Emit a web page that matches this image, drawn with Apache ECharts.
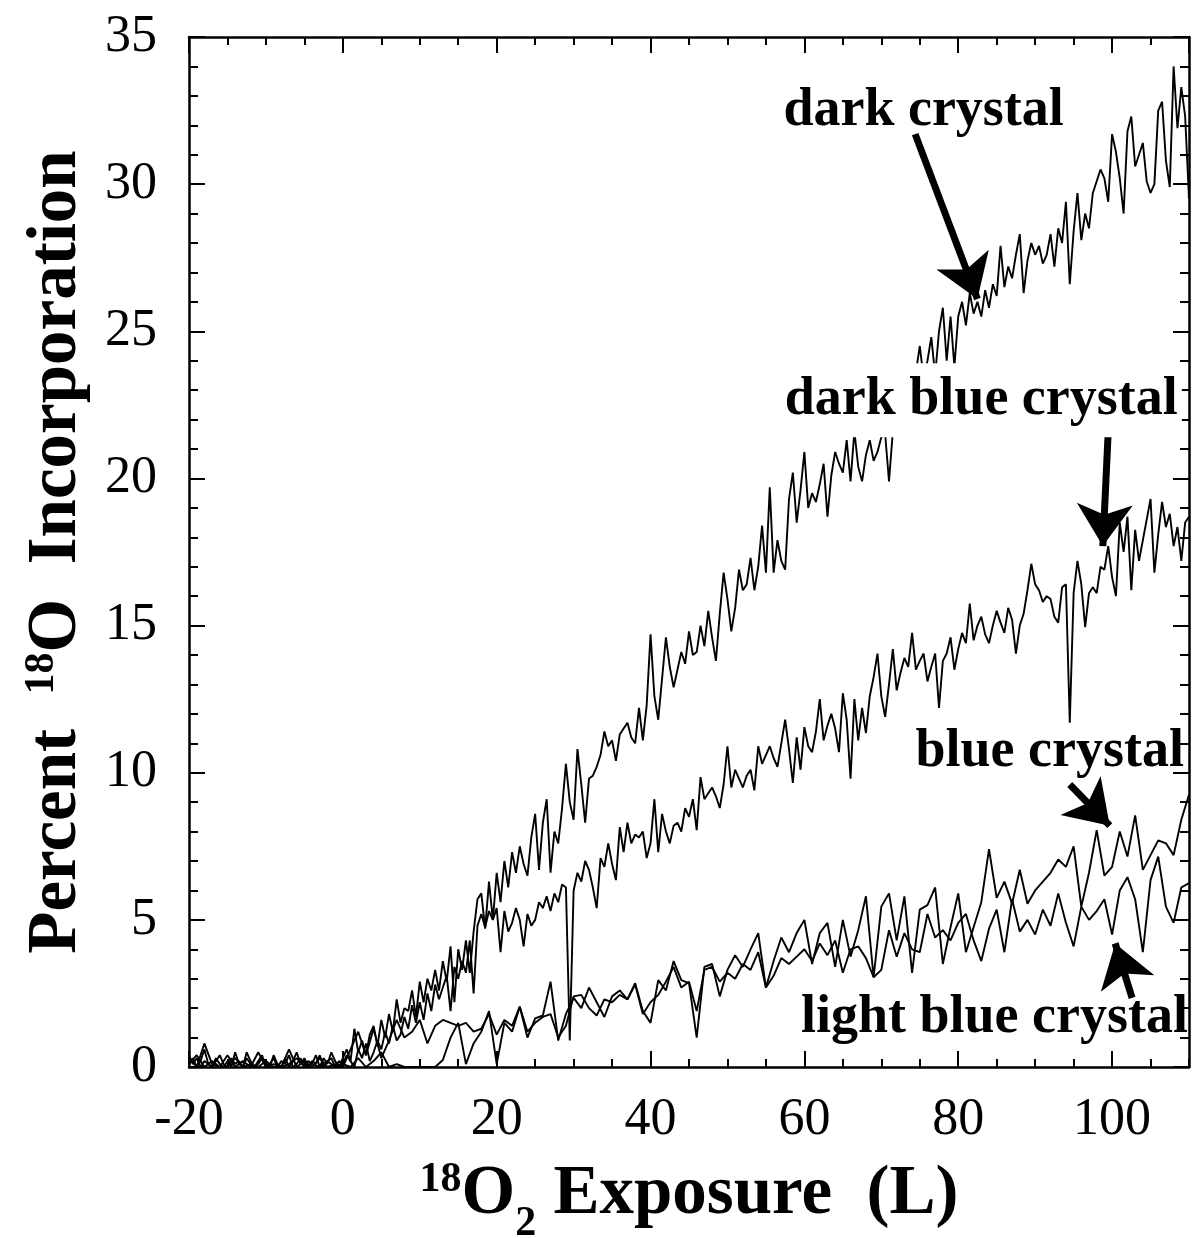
<!DOCTYPE html>
<html>
<head>
<meta charset="utf-8">
<script src="https://cdn.jsdelivr.net/npm/echarts@6.0.0/dist/echarts.min.js"></script>
<style>
html, body { margin: 0; padding: 0; background: #fff; }
#main { width: 1195px; height: 1238px; }
</style>
</head>
<body>
<div id="main"></div>
<script>
// exposure (L) grids: the dark curves are sampled every 0.5 L, the blue ones every 1 L, all from -20 L
var fineStart = -20, fineStep = 0.5;
var coarseStart = -20, coarseStep = 1;

// percent 18O incorporation, one row = 5 L (fine) or 10 L (coarse)
var darkCrystal = [
	0.4, 0.1, 0.3, 0.0, 0.2, 0.1, 0.0, 0.3, 0.1, 0.0,
	0.2, 0.0, 0.5, 0.1, 0.0, 0.3, 0.1, 0.0, 0.2, 0.4,
	0.0, 0.1, 0.3, 0.0, 0.2, 0.1, 0.4, 0.0, 0.1, 0.3,
	0.0, 0.2, 0.1, 0.4, 0.0, 0.3, 0.1, 0.5, 0.2, 0.0,
	0.3, 0.6, 0.2, 1.3, 0.5, 0.9, 0.4, 1.1, 1.4, 0.7,
	1.6, 1.0, 1.8, 1.2, 2.3, 1.5, 2.0, 1.9, 2.6, 1.7,
	2.9, 2.2, 3.0, 2.6, 3.3, 2.6, 3.6, 2.9, 4.1, 2.2,
	4.0, 3.3, 4.3, 3.2, 4.6, 5.7, 5.9, 4.7, 6.3, 5.0,
	6.6, 5.6, 7.0, 6.1, 7.3, 6.6, 7.5, 6.9, 6.5, 7.8,
	8.6, 6.7, 8.3, 9.1, 6.6, 8.0, 7.6, 8.8, 10.3, 9.0,
	8.4, 10.8, 9.6, 8.3, 9.8, 9.9, 10.2, 10.6, 11.4, 10.9,
	11.1, 10.4, 11.3, 11.5, 11.7, 11.2, 11.0, 12.2, 11.1, 12.3,
	14.7, 12.6, 11.8, 13.2, 14.6, 13.6, 12.9, 13.5, 14.1, 13.7,
	14.8, 14.0, 14.1, 15.0, 14.3, 15.5, 14.6, 13.8, 15.4, 16.8,
	15.9, 14.8, 15.6, 16.9, 16.2, 16.4, 17.3, 16.2, 17.0, 18.4,
	16.8, 19.7, 16.8, 17.9, 17.2, 16.9, 19.3, 20.2, 18.5, 19.6,
	20.9, 19.0, 19.5, 19.2, 19.8, 20.5, 18.7, 20.1, 20.9, 20.5,
	20.2, 21.3, 19.9, 21.6, 20.4, 19.9, 20.8, 21.3, 20.6, 20.9,
	21.4, 21.5, 19.9, 21.6, 22.3, 22.8, 22.1, 23.0, 22.6, 23.6,
	24.5, 23.4, 24.0, 24.8, 23.5, 25.0, 25.8, 24.0, 25.5, 23.8,
	25.5, 26.0, 25.2, 26.3, 25.6, 26.0, 25.5, 26.4, 25.8, 26.6,
	26.2, 27.9, 26.5, 27.2, 26.8, 27.6, 28.3, 26.3, 27.4, 28.0,
	27.6, 27.9, 27.3, 27.6, 28.3, 27.2, 28.5, 28.0, 29.4, 26.6,
	28.4, 29.7, 28.1, 29.0, 28.5, 29.7, 30.1, 30.5, 30.2, 29.4,
	31.7, 31.1, 30.2, 29.0, 31.8, 32.3, 30.6, 31.0, 31.4, 30.1,
	29.7, 30.0, 32.5, 32.8, 30.8, 29.9, 34.0, 31.9, 33.3, 32.3,
	29.5
];

var darkBlueCrystal = [
	0.1, 0.3, 0.0, 0.2, 0.6, 0.1, 0.0, 0.2, 0.4, 0.1,
	0.0, 0.3, 0.1, 0.2, 0.0, 0.5, 0.2, 0.0, 0.1, 0.3,
	0.2, 0.0, 0.4, 0.1, 0.0, 0.3, 0.0, 0.2, 0.5, 0.1,
	0.3, 0.0, 0.2, 0.1, 0.4, 0.0, 0.2, 0.3, 0.0, 0.2,
	0.1, 0.4, 0.2, 0.0, 0.6, 0.3, 0.8, 0.2, 0.5, 0.9,
	0.6, 1.2, 0.8, 1.4, 0.9, 1.1, 1.7, 1.3, 2.1, 1.5,
	2.2, 1.6, 2.5, 1.9, 2.8, 2.3, 2.7, 3.1, 1.9, 3.4,
	3.0, 3.6, 3.2, 4.3, 2.5, 4.8, 5.2, 4.75, 5.3, 5.0,
	5.4, 3.9, 5.3, 4.6, 4.9, 5.4, 5.0, 4.1, 5.2, 4.8,
	5.0, 5.6, 5.4, 5.8, 5.3, 5.9, 5.6, 6.2, 6.1, 0.9,
	6.0, 6.6, 6.3, 7.0, 6.7, 6.1, 5.4, 7.1, 6.8, 7.6,
	6.9, 6.35, 8.15, 7.3, 8.3, 7.6, 7.9, 7.8, 8.0, 7.1,
	7.6, 9.1, 7.3, 8.6, 8.0, 7.6, 8.2, 8.3, 8.0, 8.8,
	8.5, 9.1, 8.05, 9.85, 9.1, 9.3, 9.5, 9.2, 8.8, 9.6,
	10.9, 9.5, 10.1, 9.8, 9.5, 9.9, 10.1, 9.4, 10.9, 10.3,
	10.6, 10.9, 10.5, 10.2, 11.0, 11.8, 10.8, 9.65, 11.2, 10.1,
	11.55, 10.9, 10.7, 11.4, 12.5, 11.1, 11.6, 12.0, 11.5, 10.7,
	12.7, 11.8, 9.8, 12.5, 11.1, 12.2, 11.35, 12.6, 13.25, 14.05,
	12.6, 11.9, 13.0, 14.2, 12.8, 13.4, 13.9, 13.6, 14.75, 13.5,
	13.8, 14.05, 13.1, 13.6, 14.05, 12.2, 13.8, 14.05, 14.6, 13.5,
	14.2, 14.75, 14.4, 15.75, 14.5, 15.0, 15.3, 14.7, 14.4, 15.0,
	15.5, 15.1, 14.75, 15.6, 15.2, 14.05, 15.0, 15.4, 16.2, 17.1,
	16.4, 16.2, 15.8, 16.0, 15.9, 15.3, 15.1, 16.3, 16.4, 11.7,
	16.1, 17.2, 16.4, 14.95, 16.1, 16.3, 16.1, 17.0, 16.9, 17.7,
	16.65, 16.0, 18.5, 17.5, 18.7, 16.2, 18.25, 17.2, 17.9, 18.6,
	19.3, 16.8, 18.1, 19.2, 18.35, 18.8, 17.7, 18.35, 17.2, 18.5,
	18.7
];

var blueCrystal = [
	0.3, 0.0, 0.8, 0.1, 0.0, 0.4, 0.0, 0.2, 0.0, 0.5,
	0.0, 0.1, 0.0, 0.6, 0.0, 0.2, 0.0, 0.3, 0.0, 0.1,
	0.0, 0.6, 1.2, 0.4, 1.3, 0.3, 0.9, 1.6, 1.0, 1.2,
	1.6, 0.8, 1.4, 1.6, 1.5, 1.4, 1.5, 1.2, 1.3, 1.8,
	1.1, 1.6, 1.4, 2.05, 1.0, 1.65, 1.75, 2.9, 0.9, 1.8,
	2.35, 2.0, 2.7, 2.2, 1.7, 2.4, 2.6, 2.3, 2.85, 1.9,
	1.5, 2.95, 2.6, 3.6, 2.95, 2.85, 1.0, 3.4, 3.5, 2.4,
	3.3, 3.8, 3.4, 4.0, 4.55, 2.7, 3.6, 4.4, 3.9, 4.55,
	5.0, 3.5, 4.55, 4.9, 3.4, 5.0, 3.75, 4.65, 5.8, 3.05,
	5.45, 5.9, 4.3, 5.8, 3.2, 5.35, 5.5, 6.1, 3.5, 4.75,
	5.9, 3.9, 4.75, 5.6, 7.4, 5.75, 6.3, 5.55, 6.7, 5.55,
	6.0, 6.3, 6.6, 7.05, 6.8, 7.5, 5.45, 6.6, 8.05, 6.5,
	6.8, 8.0, 7.15, 8.55, 6.7, 7.2, 7.7, 7.6, 7.2, 8.4,
	9.25
];

var lightBlueCrystal = [
	0.1, 0.4, 0.0, 0.2, 0.0, 0.0, 0.3, 0.0, 0.1, 0.0,
	0.2, 0.0, 0.0, 0.1, 0.3, 0.0, 0.1, 0.0, 0.2, 0.0,
	0.1, 0.0, 0.3, 0.0, 0.2, 0.5, 0.0, 0.1, 0.0, 0.0,
	0.0, 0.0, 0.0, 0.24, 1.0, 1.5, 0.1, 0.8, 1.2, 1.9,
	0.1, 1.5, 1.2, 2.05, 1.2, 1.5, 1.7, 1.8, 1.0, 1.4,
	2.4, 2.45, 2.0, 1.75, 2.3, 2.2, 2.45, 2.3, 2.8, 1.8,
	2.2, 2.45, 2.9, 3.4, 2.7, 2.9, 1.9, 3.3, 3.4, 2.9,
	3.2, 3.0, 3.5, 3.3, 3.9, 2.7, 3.1, 3.7, 3.5, 3.75,
	4.0, 3.6, 4.2, 3.8, 4.3, 3.2, 4.0, 4.1, 3.7, 3.05,
	3.3, 4.65, 3.75, 4.55, 4.0, 3.9, 5.2, 4.4, 4.65, 4.3,
	4.9, 5.2, 4.3, 3.6, 4.7, 5.35, 3.9, 5.7, 4.6, 5.0,
	4.5, 5.35, 4.8, 5.9, 4.9, 4.1, 5.45, 5.0, 5.3, 5.7,
	4.5, 6.0, 6.45, 5.7, 3.9, 6.35, 7.15, 5.45, 4.9, 6.1,
	6.25
];

// text labels and arrows, in data units [exposure, percent]
var labelTexts = ['dark crystal', 'dark blue crystal', 'blue crystal', 'light blue crystal'];
var labelAt = [[75.5, 32.5], [83.0, 22.66], [91.9, 10.7], [84.7, 1.66]];
var labelMasks = [false, true, false, false];
var arrowFrom = [[74.4, 31.7], [99.5, 21.6], [94.5, 9.6], [102.6, 2.35]];
var arrowTo = [[82.5, 26.1], [98.8, 17.7], [99.7, 8.2], [100.4, 4.2]];

var serif = 'Liberation Serif';

function toPairs(vals, start, step) {
	var out = [];
	for (var i = 0; i < vals.length; i++) {
		out.push([start + i * step, vals[i]]);
	}
	return out;
}

function lineSeries(name, vals, start, step) {
	return {
		name: name,
		type: 'line',
		xAxisIndex: 0,
		yAxisIndex: 0,
		data: toPairs(vals, start, step),
		showSymbol: false,
		symbol: 'none',
		lineStyle: { color: '#000', width: 1.9 },
		silent: true,
		z: 3
	};
}

function xAx(pos, interval, tickLen, major) {
	return {
		type: 'value', min: -20, max: 110, interval: interval, position: pos,
		axisLine: { show: major, onZero: false, lineStyle: { color: '#000', width: 2.5 } },
		axisTick: { show: true, inside: true, length: tickLen, lineStyle: { color: '#000', width: 2 } },
		axisLabel: { show: major && pos === 'bottom', fontFamily: serif, fontSize: 52, color: '#000', margin: 27, showMaxLabel: false },
		splitLine: { show: false }
	};
}

function yAx(pos, interval, tickLen, major) {
	return {
		type: 'value', min: 0, max: 35, interval: interval, position: pos,
		axisLine: { show: major, onZero: false, lineStyle: { color: '#000', width: 2.5 } },
		axisTick: { show: true, inside: true, length: tickLen, lineStyle: { color: '#000', width: 2 } },
		axisLabel: { show: major && pos === 'left', fontFamily: serif, fontSize: 52, color: '#000', margin: 32 },
		splitLine: { show: false }
	};
}

var xAxes = [xAx('bottom', 20, 16, true), xAx('bottom', 5, 8, false), xAx('top', 20, 16, true), xAx('top', 5, 8, false)];
var yAxes = [yAx('left', 5, 16, true), yAx('left', 1, 9, false), yAx('right', 5, 16, true), yAx('right', 1, 9, false)];

var titleRich = {
	sup: { fontFamily: serif, fontWeight: 'bold', fontSize: 42, verticalAlign: 'top', lineHeight: 44, color: '#000' },
	sub: { fontFamily: serif, fontWeight: 'bold', fontSize: 42, verticalAlign: 'bottom', lineHeight: 44, padding: [0, 0, -14, 0], color: '#000' }
};

xAxes[0].name = '{sup|18}O{sub|2} Exposure  (L)';
xAxes[0].nameLocation = 'middle';
xAxes[0].nameGap = 92;
xAxes[0].nameTextStyle = { fontFamily: serif, fontWeight: 'bold', fontSize: 69, color: '#000', lineHeight: 72, rich: titleRich };

yAxes[0].name = 'Percent  {sup|18}O  Incorporation';
yAxes[0].nameLocation = 'middle';
yAxes[0].nameGap = 96;
yAxes[0].nameTextStyle = { fontFamily: serif, fontWeight: 'bold', fontSize: 69, color: '#000', lineHeight: 72, rich: titleRich };

var arrowData = [];
for (var i = 0; i < arrowFrom.length; i++) {
	arrowData.push([{ coord: arrowFrom[i] }, { coord: arrowTo[i] }]);
}

var series = [
	lineSeries('dark crystal', darkCrystal, fineStart, fineStep),
	lineSeries('dark blue crystal', darkBlueCrystal, fineStart, fineStep),
	lineSeries('blue crystal', blueCrystal, coarseStart, coarseStep),
	lineSeries('light blue crystal', lightBlueCrystal, coarseStart, coarseStep)
];
series[0].markLine = {
	silent: true,
	symbol: ['none', 'arrow'],
	symbolSize: 42,
	label: { show: false },
	lineStyle: { color: '#000', width: 7, type: 'solid' },
	emphasis: { disabled: true },
	data: arrowData
};

var chart = echarts.init(document.getElementById('main'), null, { renderer: 'canvas' });
chart.setOption({
	animation: false,
	backgroundColor: '#fff',
	grid: { left: 189, right: 6, top: 37, bottom: 171, containLabel: false, outerBoundsMode: 'none' },
	xAxis: xAxes,
	yAxis: yAxes,
	series: series
});

// annotation texts placed from data coordinates
var graphics = [];
for (var j = 0; j < labelTexts.length; j++) {
	var p = chart.convertToPixel({ gridIndex: 0 }, labelAt[j]);
	graphics.push({
		type: 'text',
		x: p[0],
		y: p[1],
		z: 100,
		style: {
			text: labelTexts[j],
			fontFamily: serif,
			fontWeight: 'bold',
			fontSize: 54,
			fill: '#000',
			align: 'center',
			verticalAlign: 'middle',
			backgroundColor: labelMasks[j] ? '#fff' : null,
			padding: labelMasks[j] ? [8, 4, 12, 4] : 0
		}
	});
}
chart.setOption({ graphic: graphics });
</script>
</body>
</html>
